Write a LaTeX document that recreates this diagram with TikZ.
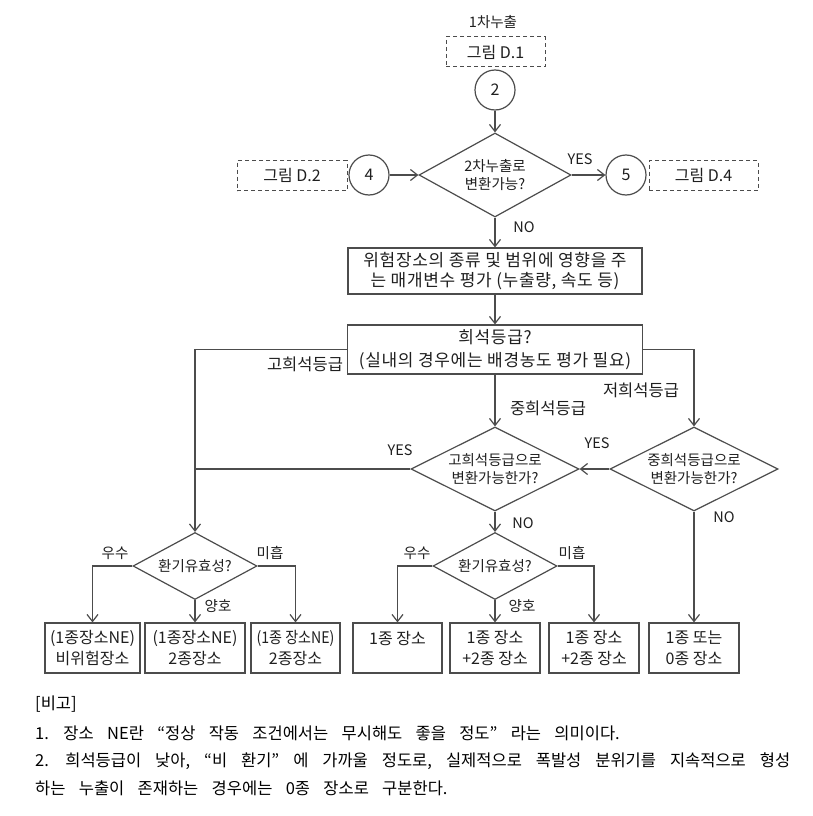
\documentclass[tikz,border=0pt]{standalone}
\usepackage{graphicx}
\usepackage{fontspec}
\setmainfont{Noto Sans CJK KR}
\newfontfamily\wideko[LetterSpace=4]{Noto Sans CJK KR}
\newfontfamily\notefont[WordSpace=3.6]{Noto Sans CJK KR}
\usetikzlibrary{shapes.geometric,arrows.meta}
\begin{document}
\begin{tikzpicture}[x=1pt,y=-1pt,
  ink/.style={draw=black!70, line width=1.2pt},
  arr/.style={ink, -{Straight Barb[length=7pt,width=11pt]}},
  lbl/.style={font=\fontsize{14.5}{17}\selectfont, text=black!88, inner sep=0pt},
  big/.style={font=\fontsize{16.5}{19}\selectfont, text=black!88, inner sep=0pt},
  txt/.style={font=\fontsize{14.5}{18.5}\selectfont, text=black!88, align=center, inner sep=0pt},
  dbox/.style={draw=black!70, line width=1pt, dash pattern=on 4pt off 3pt, minimum height=30pt, inner sep=0pt, font=\fontsize{16}{18}\selectfont, text=black!88},
  circ/.style={ink, circle, minimum size=40pt, inner sep=0pt, font=\fontsize{16}{18}\selectfont, text=black!88},
  rbox/.style={ink, rectangle, inner sep=0pt, align=center, text=black!88, font=\wideko\fontsize{17}{20}\selectfont},
  lbox/.style={ink, rectangle, inner sep=0pt, align=center, text=black!88, minimum height=50pt, font=\fontsize{16}{21}\selectfont},
  dia/.style={ink, diamond, inner sep=0pt},
  note/.style={font=\notefont\fontsize{16.5}{20}\selectfont, text=black, inner sep=0pt, anchor=base west}
]
\useasboundingbox (0,0) rectangle (812,816);
\fill[white] (0,0) rectangle (812,816);

% top
\node[lbl] (t1) at (493,22) {1차누출};
\node[dbox, minimum width=99pt] (g1) at (495.5,52) {그림 D.1};
\node[circ] (c2) at (495,90) {2};
\node[dia, minimum width=152pt, minimum height=84pt] (q1) at (495,175) {};
\node[txt] (q1t) at (q1) {2차누출로\\변환가능?};
\node[circ] (c4) at (369,175) {4};
\node[dbox, minimum width=110pt] (g2) at (292,175.5) {그림 D.2};
\node[circ] (c5) at (626,175) {5};
\node[dbox, minimum width=109pt] (g4) at (703.5,175.5) {그림 D.4};
\draw[arr] (c2) -- (q1.north);
\draw[arr] (c4) -- (q1.west);
\draw[arr] (q1.east) -- (c5);
\node[lbl] (yes1) at (580,159) {YES};
\node[lbl] (no1) at (524,227) {NO};

% rectangles
\node[rbox, minimum width=294pt, minimum height=46pt] (r1) at (495,271) {위험장소의 종류 및 범위에 영향을 주\\는 매개변수 평가 (누출량, 속도 등)};
\node[rbox, minimum width=295pt, minimum height=49pt, font=\wideko\fontsize{17}{23}\selectfont] (r2) at (495,349.5) {희석등급?\\(실내의 경우에는 배경농도 평가 필요)};
\draw[arr] (q1.south) -- (r1);
\draw[arr] (r1) -- (r2);

% dilution diamonds
\node[dia, minimum width=168pt, minimum height=84pt] (q2) at (495,469) {};
\node[txt] (q2t) at (q2) {고희석등급으로\\변환가능한가?};
\node[dia, minimum width=168pt, minimum height=84pt] (q3) at (694,469) {};
\node[txt] (q3t) at (q3) {중희석등급으로\\변환가능한가?};

% ventilation diamonds
\node[dia, minimum width=124pt, minimum height=67pt] (h1) at (195,566) {};
\node[txt] (h1t) at (h1) {환기유효성?};
\node[dia, minimum width=124pt, minimum height=67pt] (h2) at (495,566) {};
\node[txt] (h2t) at (h2) {환기유효성?};

\coordinate (lk) at (195,349.5);
\coordinate (rk) at (694,349.5);
\coordinate (lj) at (195,469);
\draw[arr] (r2.west) -- (lk) -- (h1.north);
\draw[arr] (r2.east) -- (rk) -- (q3.north);
\draw[arr] (r2.south) -- (q2.north);
\draw[arr] (q3.west) -- (q2.east);
\draw[ink] (q2.west) -- (lj);
\draw[arr] (q2.south) -- (h2.north);
\node[big] (l1) at (305,364) {고희석등급};
\node[big] (l3) at (641,390) {저희석등급};
\node[big] (l2) at (548,408) {중희석등급};
\node[lbl] (yes2) at (400,450) {YES};
\node[lbl] (yes3) at (597,443) {YES};
\node[lbl] (no2) at (523,523) {NO};
\node[lbl] (no3) at (724,517) {NO};

% result boxes
\node[lbox, minimum width=95pt] (b1) at (92.5,648) {(1종장소NE)\\비위험장소};
\node[lbox, minimum width=100pt] (b2) at (195,648) {(1종장소NE)\\2종장소};
\node[lbox, minimum width=89pt] (b3) at (295.5,648) {\scalebox{0.88}[1]{(1종 장소NE)}\\2종장소};
\node[lbox, minimum width=89pt] (b4) at (397.5,648) {1종 장소\\\mbox{}};
\node[lbox, minimum width=90pt] (b5) at (495,648) {1종 장소\\+2종 장소};
\node[lbox, minimum width=90pt] (b6) at (594,648) {1종 장소\\+2종 장소};
\node[lbox, minimum width=90pt] (b7) at (694,648) {1종 또는\\0종 장소};

\coordinate (h1l) at (92.5,566);
\coordinate (h1r) at (295.5,566);
\coordinate (h2l) at (397.5,566);
\coordinate (h2r) at (594,566);
\draw[arr] (h1.west) -- (h1l) -- (b1.north);
\draw[arr] (h1.east) -- (h1r) -- (b3.north);
\draw[arr] (h1.south) -- (b2.north);
\draw[arr] (h2.west) -- (h2l) -- (b4.north);
\draw[arr] (h2.east) -- (h2r) -- (b6.north);
\draw[arr] (h2.south) -- (b5.north);
\draw[arr] (q3.south) -- (b7.north);

\node[lbl] (u1) at (115,553) {우수};
\node[lbl] (m1) at (270,553) {미흡};
\node[lbl] (y1) at (218,606) {양호};
\node[lbl] (u2) at (417,553) {우수};
\node[lbl] (m2) at (572,553) {미흡};
\node[lbl] (y2) at (522,606) {양호};

% notes
\node[note] (n0) at (35,709) {[비고]};
\node[note] (n1) at (35,739) {1. 장소 NE란 “정상 작동 조건에서는 무시해도 좋을 정도” 라는 의미이다.};
\node[note] (n2) at (35,766) {\makebox[755pt][s]{2. 희석등급이 낮아, “비 환기” 에 가까울 정도로, 실제적으로 폭발성 분위기를 지속적으로 형성}};
\node[note] (n3) at (35,794) {하는 누출이 존재하는 경우에는 0종 장소로 구분한다.};
\end{tikzpicture}
\end{document}
